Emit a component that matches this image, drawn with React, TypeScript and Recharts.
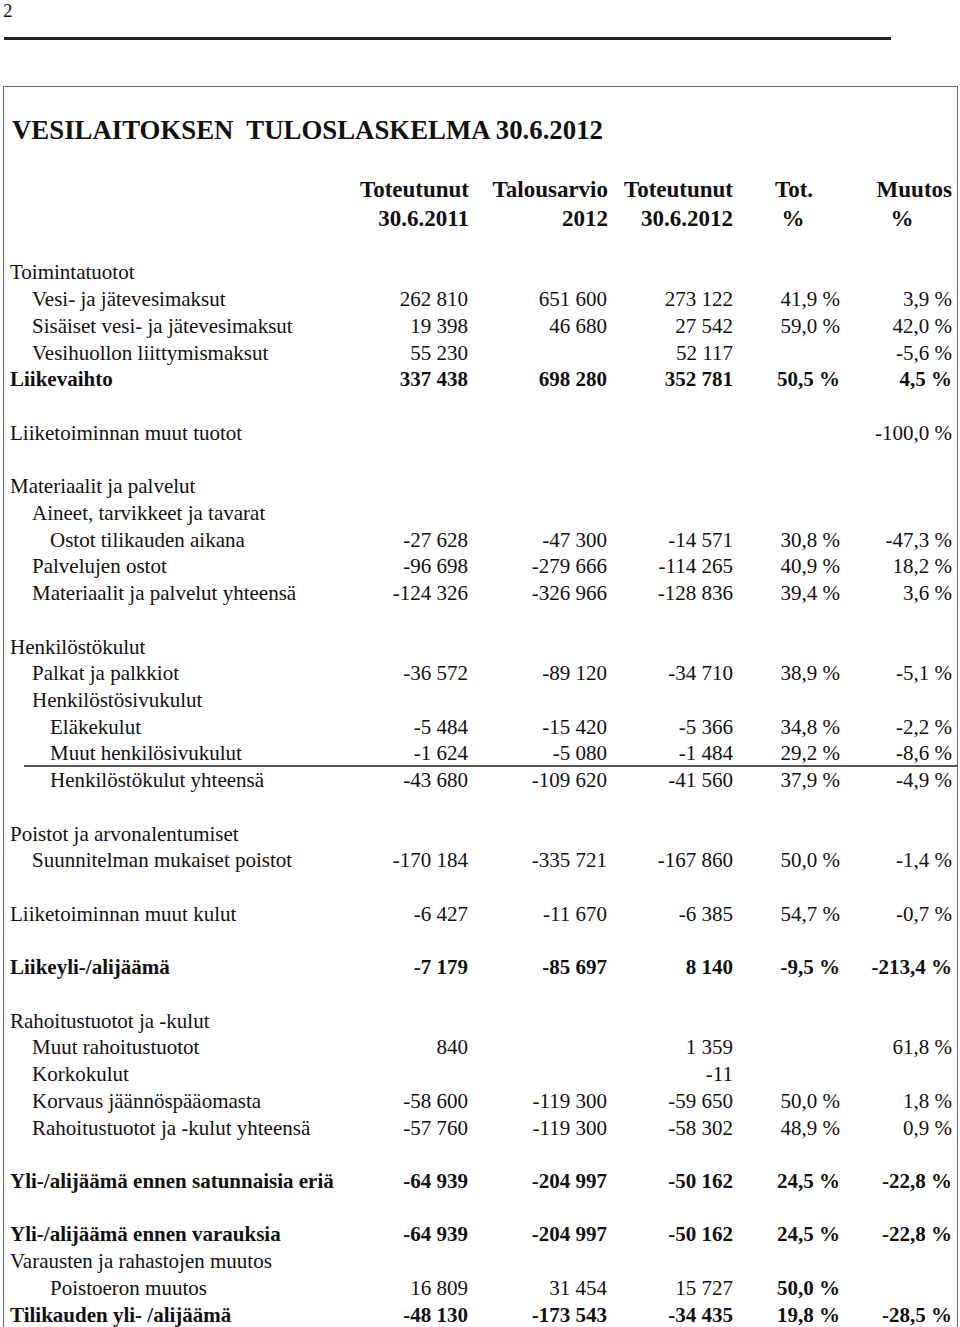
import { ComposedChart, XAxis, YAxis, Bar } from 'recharts';

// Rivit (tyhjä merkkijono = tyhjä rivi)
const rowLabels = [
  'Toimintatuotot',
  'Vesi- ja jätevesimaksut',
  'Sisäiset vesi- ja jätevesimaksut',
  'Vesihuollon liittymismaksut',
  'Liikevaihto',
  '',
  'Liiketoiminnan muut tuotot',
  '',
  'Materiaalit ja palvelut',
  'Aineet, tarvikkeet ja tavarat',
  'Ostot tilikauden aikana',
  'Palvelujen ostot',
  'Materiaalit ja palvelut yhteensä',
  '',
  'Henkilöstökulut',
  'Palkat ja palkkiot',
  'Henkilöstösivukulut',
  'Eläkekulut',
  'Muut henkilösivukulut',
  'Henkilöstökulut yhteensä',
  '',
  'Poistot ja arvonalentumiset',
  'Suunnitelman mukaiset poistot',
  '',
  'Liiketoiminnan muut kulut',
  '',
  'Liikeyli-/alijäämä',
  '',
  'Rahoitustuotot ja -kulut',
  'Muut rahoitustuotot',
  'Korkokulut',
  'Korvaus jäännöspääomasta',
  'Rahoitustuotot ja -kulut yhteensä',
  '',
  'Yli-/alijäämä ennen satunnaisia eriä',
  '',
  'Yli-/alijäämä ennen varauksia',
  'Varausten ja rahastojen muutos',
  'Poistoeron muutos',
  'Tilikauden yli- /alijäämä',
];

const actual2011 = [
  null, 262810, 19398, 55230, 337438, null, null, null, null, null,
  -27628, -96698, -124326, null, null, -36572, null, -5484, -1624, -43680,
  null, null, -170184, null, -6427, null, -7179, null, null, 840,
  null, -58600, -57760, null, -64939, null, -64939, null, 16809, -48130,
];

const budget2012 = [
  null, 651600, 46680, null, 698280, null, null, null, null, null,
  -47300, -279666, -326966, null, null, -89120, null, -15420, -5080, -109620,
  null, null, -335721, null, -11670, null, -85697, null, null, null,
  null, -119300, -119300, null, -204997, null, -204997, null, 31454, -173543,
];

const actual2012 = [
  null, 273122, 27542, 52117, 352781, null, null, null, null, null,
  -14571, -114265, -128836, null, null, -34710, null, -5366, -1484, -41560,
  null, null, -167860, null, -6385, null, 8140, null, null, 1359,
  -11, -59650, -58302, null, -50162, null, -50162, null, 15727, -34435,
];

const totPct = [
  null, 41.9, 59.0, null, 50.5, null, null, null, null, null,
  30.8, 40.9, 39.4, null, null, 38.9, null, 34.8, 29.2, 37.9,
  null, null, 50.0, null, 54.7, null, -9.5, null, null, null,
  null, 50.0, 48.9, null, 24.5, null, 24.5, null, 50.0, 19.8,
];

const changePct = [
  null, 3.9, 42.0, -5.6, 4.5, null, -100.0, null, null, null,
  -47.3, 18.2, 3.6, null, null, -5.1, null, -2.2, -8.6, -4.9,
  null, null, -1.4, null, -0.7, null, -213.4, null, null, 61.8,
  null, 1.8, 0.9, null, -22.8, null, -22.8, null, null, -28.5,
];

// tyylit
const indentLevel = [
  0, 1, 1, 1, 0, 0, 0, 0, 0, 1,
  2, 1, 1, 0, 0, 1, 1, 2, 2, 2,
  0, 0, 1, 0, 0, 0, 0, 0, 0, 1,
  1, 1, 1, 0, 0, 0, 0, 0, 2, 0,
];
const boldRows = [4, 26, 34, 36, 39];
const boldCells = ['38-3'];

const columns = [actual2011, budget2012, actual2012, totPct, changePct];
const COL_RIGHT = [468, 607, 733, 840, 952];
const INDENT_X = [10, 32, 50];
const FONT = '"Liberation Serif", "Times New Roman", serif';

const fmtNum = (v: number) => {
  const s = Math.abs(v).toString().replace(/\B(?=(\d{3})+(?!\d))/g, ' ');
  return (v < 0 ? '-' : '') + s;
};
const fmtPct = (v: number) => v.toFixed(1).replace('.', ',') + ' %';

const rows = rowLabels.map((label, i) => ({ key: 'r' + i, label, zero: 0 }));

function RowTick(props: any) {
  const { y, payload } = props;
  const i = Number(String(payload.value).slice(1));
  const rowBold = boldRows.includes(i);
  const base = y + 7;
  return (
    <g fontFamily={FONT} fontSize={21} fill="#111">
      <text x={INDENT_X[indentLevel[i]]} y={base} fontWeight={rowBold ? 'bold' : 'normal'}>
        {rowLabels[i]}
      </text>
      {columns.map((col, c) => {
        const v = col[i];
        if (v === null || v === undefined) return null;
        const b = rowBold || boldCells.includes(i + '-' + c);
        return (
          <text
            key={c}
            x={COL_RIGHT[c]}
            y={base}
            textAnchor="end"
            fontWeight={b ? 'bold' : 'normal'}
          >
            {c < 3 ? fmtNum(v) : fmtPct(v)}
          </text>
        );
      })}
    </g>
  );
}

const abs = (o: any) => ({ position: 'absolute' as const, ...o });

export default function App() {
  const headStyle = {
    fontFamily: FONT,
    fontWeight: 'bold' as const,
    fontSize: 23,
    lineHeight: '23px',
    color: '#111',
    whiteSpace: 'nowrap' as const,
  };
  return (
    <div style={abs({ left: 0, top: 0, width: 960, height: 1327, background: '#fff', overflow: 'hidden' })}>
      <div style={abs({ left: 3, top: 1, fontFamily: FONT, fontSize: 19, lineHeight: '19px', color: '#111' })}>2</div>
      <div style={abs({ left: 4, top: 37, width: 887, height: 3, background: '#222' })} />
      <div style={abs({ left: 3, top: 86, width: 953, height: 1250, border: '1.5px solid #666' })} />
      <div
        style={abs({
          left: 12,
          top: 116.5,
          fontFamily: FONT,
          fontWeight: 'bold',
          fontSize: 26.8,
          lineHeight: '26.8px',
          color: '#111',
          whiteSpace: 'pre',
        })}
      >
        {'VESILAITOKSEN  TULOSLASKELMA 30.6.2012'}
      </div>
      {/* otsikkorivit */}
      <div style={{ ...headStyle, ...abs({ right: 960 - 469, top: 177.7, textAlign: 'right' }) }}>Toteutunut</div>
      <div style={{ ...headStyle, ...abs({ right: 960 - 469, top: 206.7, textAlign: 'right' }) }}>30.6.2011</div>
      <div style={{ ...headStyle, ...abs({ right: 960 - 608, top: 177.7, textAlign: 'right' }) }}>Talousarvio</div>
      <div style={{ ...headStyle, ...abs({ right: 960 - 608, top: 206.7, textAlign: 'right' }) }}>2012</div>
      <div style={{ ...headStyle, ...abs({ right: 960 - 733, top: 177.7, textAlign: 'right' }) }}>Toteutunut</div>
      <div style={{ ...headStyle, ...abs({ right: 960 - 733, top: 206.7, textAlign: 'right' }) }}>30.6.2012</div>
      <div style={{ ...headStyle, ...abs({ left: 744, width: 100, top: 177.7, textAlign: 'center' }) }}>Tot.</div>
      <div style={{ ...headStyle, ...abs({ left: 743, width: 100, top: 206.7, textAlign: 'center' }) }}>%</div>
      <div style={{ ...headStyle, ...abs({ right: 960 - 952, top: 177.7, textAlign: 'right' }) }}>Muutos</div>
      <div style={{ ...headStyle, ...abs({ left: 852, width: 100, top: 206.7, textAlign: 'center' }) }}>%</div>
      {/* viiva henkilösivukulujen alla */}
      <div style={abs({ left: 24, top: 765, width: 934, height: 1.5, background: '#555' })} />
      <div style={abs({ left: 0, top: 258.5 })}>
        <ComposedChart
          width={960}
          height={1069}
          data={rows}
          layout="vertical"
          margin={{ top: 0, right: 0, bottom: 0, left: 0 }}
        >
          <XAxis type="number" domain={[0, 1]} hide />
          <YAxis
            type="category"
            dataKey="key"
            width={10}
            interval={0}
            axisLine={false}
            tickLine={false}
            tick={<RowTick />}
          />
          <Bar dataKey="zero" fill="transparent" isAnimationActive={false} />
        </ComposedChart>
      </div>
    </div>
  );
}
